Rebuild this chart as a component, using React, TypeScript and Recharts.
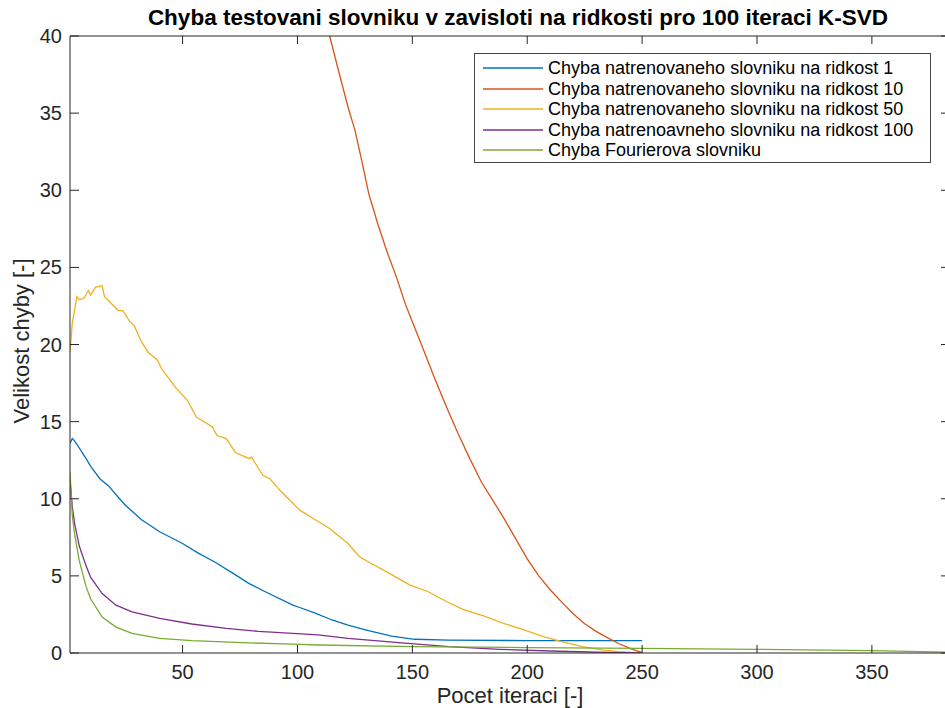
import { LineChart, Line, XAxis, YAxis, Legend } from "recharts";

const FONT = '"Liberation Sans", Arial, Helvetica, sans-serif';
const AXIS = "#262626";

const xTicks = [50, 100, 150, 200, 250, 300, 350];
const yTicks = [0, 5, 10, 15, 20, 25, 30, 35, 40];

// ridkost 1
const iterR1 = [1, 2, 3, 5, 8, 10, 14, 18, 22, 25, 32, 40, 50, 57, 64, 72, 79, 86, 98, 101, 108, 115, 122, 130, 141, 151, 166, 200, 250];
const errR1 = [13.6, 13.9, 13.75, 13.3, 12.6, 12.1, 11.3, 10.8, 10.1, 9.6, 8.65, 7.86, 7.1, 6.46, 5.9, 5.16, 4.5, 3.97, 3.1, 2.95, 2.57, 2.14, 1.8, 1.49, 1.1, 0.89, 0.84, 0.8, 0.8];

// ridkost 10
const iterR10 = [108, 114, 119, 122, 125, 128, 131, 135, 139, 143, 147, 151, 155, 160, 165, 170, 175, 180, 185, 190, 195, 200, 205, 210, 215, 220, 225, 230, 235, 240, 245, 250];
const errR10 = [43.6, 40, 37.1, 35.4, 33.9, 31.9, 29.8, 27.8, 26.0, 24.4, 22.6, 21.1, 19.6, 17.7, 15.9, 14.2, 12.6, 11.1, 9.9, 8.7, 7.4, 6.1, 5.0, 4.1, 3.3, 2.55, 1.9, 1.4, 0.98, 0.6, 0.28, 0.02];

// ridkost 50
const iterR50 = [1, 2, 4, 5, 7, 9, 10, 12, 15, 16, 18, 22, 24, 27, 29, 32, 35, 39, 41, 43, 47, 52, 56, 63, 65, 69, 73, 79, 80, 85, 88, 93, 101, 107, 114, 122, 127, 131, 140, 149, 157, 165, 172, 181, 189, 198, 207, 215, 224, 233, 240, 246, 250];
const errR50 = [19.5, 21.4, 23.1, 22.9, 23.0, 23.5, 23.2, 23.7, 23.8, 23.1, 22.8, 22.2, 22.2, 21.5, 21.2, 20.2, 19.5, 19.0, 18.4, 18.0, 17.2, 16.4, 15.3, 14.66, 14.1, 13.9, 13.0, 12.6, 12.7, 11.5, 11.3, 10.45, 9.26, 8.7, 8.07, 7.1, 6.24, 5.9, 5.16, 4.4, 3.97, 3.32, 2.83, 2.4, 1.96, 1.53, 1.06, 0.73, 0.41, 0.19, 0.08, 0.02, 0.0];

// ridkost 100
const iterR100 = [1, 2, 3, 5, 8, 10, 15, 21, 28, 40, 54, 69, 83, 98, 109, 122, 144, 166, 188, 210, 239, 250];
const errR100 = [11.2, 9.5, 8.4, 6.95, 5.65, 4.9, 3.85, 3.1, 2.67, 2.25, 1.88, 1.6, 1.4, 1.27, 1.17, 0.95, 0.67, 0.41, 0.24, 0.13, 0.02, 0.0];

// Fourier
const iterFourier = [1, 2, 3, 5, 8, 10, 15, 21, 28, 40, 54, 76, 98, 109, 150, 200, 250, 300, 350, 384];
const errFourier = [11.74, 8.9, 7.7, 6.0, 4.3, 3.5, 2.33, 1.68, 1.27, 0.95, 0.8, 0.67, 0.58, 0.52, 0.41, 0.35, 0.3, 0.24, 0.16, 0.05];

const series = [
    { name: "Chyba natrenovaneho slovniku na ridkost 1", color: "#0072BD", x: iterR1, y: errR1 },
    { name: "Chyba natrenovaneho slovniku na ridkost 10", color: "#D95319", x: iterR10, y: errR10 },
    { name: "Chyba natrenovaneho slovniku na ridkost 50", color: "#EDB120", x: iterR50, y: errR50 },
    { name: "Chyba natrenoavneho slovniku na ridkost 100", color: "#7E2F8E", x: iterR100, y: errR100 },
    { name: "Chyba Fourierova slovniku", color: "#77AC30", x: iterFourier, y: errFourier },
];

function BottomTick({ x, y, payload }: any) {
    return (
        <g>
            <line x1={x} x2={x} y1={y} y2={y - 8} stroke={AXIS} />
            <text x={x} y={y + 26} textAnchor="middle" fill={AXIS} fontSize={20} fontFamily={FONT}>
                {payload.value}
            </text>
        </g>
    );
}

function TopTick({ x, y }: any) {
    return <line x1={x} x2={x} y1={y} y2={y + 8} stroke={AXIS} />;
}

function LeftTick({ x, y, payload }: any) {
    return (
        <g>
            <line x1={x} x2={x + 9} y1={y} y2={y} stroke={AXIS} />
            <text x={x - 8} y={y} dy="0.35em" textAnchor="end" fill={AXIS} fontSize={20} fontFamily={FONT}>
                {payload.value}
            </text>
        </g>
    );
}

function RightTick({ x, y }: any) {
    return <line x1={x} x2={x - 9} y1={y} y2={y} stroke={AXIS} />;
}

function LegendBox() {
    return (
        <div
            style={{
                boxSizing: "border-box",
                width: 457,
                height: 110,
                border: "1px solid #444",
                background: "#fff",
                paddingTop: 4,
                fontFamily: FONT,
                fontSize: 18,
                color: "#000",
            }}
        >
            {series.map((s) => (
                <div key={s.name} style={{ display: "flex", alignItems: "center", height: 20.5 }}>
                    <svg width={60} height={6} style={{ marginLeft: 8, marginRight: 5, flex: "none" }}>
                        <line x1={0} x2={60} y1={3} y2={3} stroke={s.color} strokeWidth={1.3} />
                    </svg>
                    <span style={{ whiteSpace: "nowrap", lineHeight: "20.5px" }}>{s.name}</span>
                </div>
            ))}
        </div>
    );
}

export default function App() {
    return (
        <div style={{ position: "absolute", left: 0, top: 0, width: 945, height: 708, overflow: "hidden", background: "#fff" }}>
            <LineChart width={960} height={708} margin={{ top: 35, right: 9, bottom: 54, left: 69 }}>
                <XAxis
                    dataKey="x"
                    type="number"
                    domain={[1, 384]}
                    ticks={xTicks}
                    interval={0}
                    allowDataOverflow
                    height={1}
                    tickSize={0}
                    tickMargin={0}
                    tickLine={false}
                    axisLine={{ stroke: AXIS }}
                    tick={<BottomTick />}
                />
                <XAxis
                    xAxisId="top"
                    orientation="top"
                    dataKey="x"
                    type="number"
                    domain={[1, 384]}
                    ticks={xTicks}
                    interval={0}
                    allowDataOverflow
                    height={1}
                    tickSize={0}
                    tickMargin={0}
                    tickLine={false}
                    axisLine={{ stroke: AXIS }}
                    tick={<TopTick />}
                />
                <YAxis
                    type="number"
                    domain={[0, 40]}
                    ticks={yTicks}
                    interval={0}
                    allowDataOverflow
                    width={1}
                    tickSize={0}
                    tickMargin={0}
                    tickLine={false}
                    axisLine={{ stroke: AXIS }}
                    tick={<LeftTick />}
                />
                <YAxis
                    yAxisId="right"
                    orientation="right"
                    type="number"
                    domain={[0, 40]}
                    ticks={yTicks}
                    interval={0}
                    allowDataOverflow
                    width={1}
                    tickSize={0}
                    tickMargin={0}
                    tickLine={false}
                    axisLine={{ stroke: AXIS }}
                    tick={<RightTick />}
                />
                {series.map((s) => (
                    <Line
                        key={s.name}
                        name={s.name}
                        data={s.x.map((v, i) => ({ x: v, y: s.y[i] }))}
                        dataKey="y"
                        type="linear"
                        stroke={s.color}
                        strokeWidth={1.3}
                        dot={false}
                        activeDot={false}
                        isAnimationActive={false}
                    />
                ))}
                <Legend
                    layout="vertical"
                    align="center"
                    verticalAlign="middle"
                    wrapperStyle={{ left: 474, top: 53, width: 457 }}
                    content={() => <LegendBox />}
                />
                <text x={518} y={25} textAnchor="middle" fontWeight="bold" fontSize={22.5} fontFamily={FONT} fill="#000">
                    Chyba testovani slovniku v zavisloti na ridkosti pro 100 iteraci K-SVD
                </text>
                <text x={510} y={703} textAnchor="middle" fontSize={22} fontFamily={FONT} fill={AXIS}>
                    Pocet iteraci [-]
                </text>
                <text x={29} y={341} textAnchor="middle" fontSize={22} fontFamily={FONT} fill={AXIS} transform="rotate(-90 29 341)">
                    Velikost chyby [-]
                </text>
            </LineChart>
        </div>
    );
}
